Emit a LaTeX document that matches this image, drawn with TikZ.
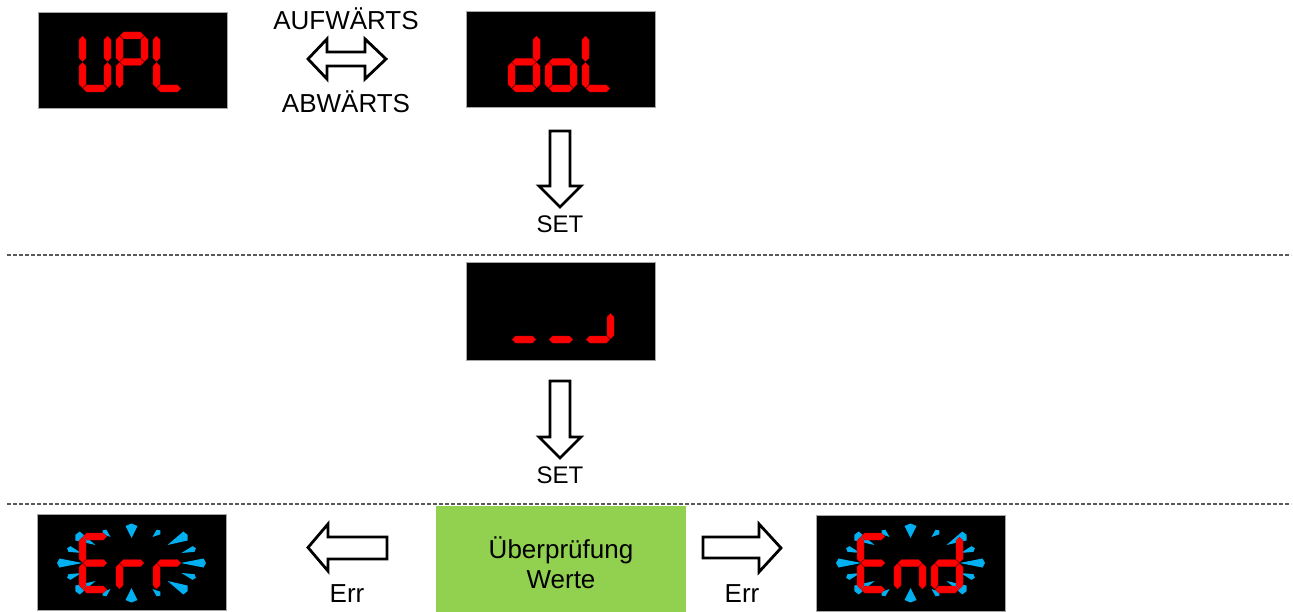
\documentclass[tikz,border=0pt]{standalone}
\usepackage{fontspec}
\setmainfont{Liberation Sans}
\usetikzlibrary{calc}
\definecolor{segred}{HTML}{FF0000}
\definecolor{segedge}{HTML}{D00000}
\definecolor{rayblue}{HTML}{00B0F0}
\definecolor{boxgreen}{HTML}{92D050}
\definecolor{dashgray}{HTML}{595959}
\tikzset{
  display/.style={draw=gray!70, line width=1pt, fill=black, minimum width=189pt, minimum height=96pt, inner sep=0pt},
  seg/.style={fill=segred, draw=segedge, line width=0.3pt, line join=round},
  ray/.style={fill=rayblue},
  blockarrow/.style={draw=black, fill=white, line width=2.8pt, line join=miter},
  sep/.style={draw=dashgray, line width=1.4pt, dash pattern=on 4pt off 2pt},
  lbl/.style={anchor=base, inner sep=0pt, font=\fontsize{26}{30}\selectfont},
  setlbl/.style={anchor=base, inner sep=0pt, font=\fontsize{24}{28}\selectfont},
}
% horizontal / vertical segments: (x1,x2,y) and (x,y1,y2); half thickness 3.5, gap 0.6
\newcommand{\hsg}[3]{\path[seg] (#1+0.6,#3) -- (#1+4.1,#3-3.5) -- (#2-4.1,#3-3.5) -- (#2-0.6,#3) -- (#2-4.1,#3+3.5) -- (#1+4.1,#3+3.5) -- cycle;}
\newcommand{\vsg}[3]{\path[seg] (#1,#2+0.6) -- (#1+3.5,#2+4.1) -- (#1+3.5,#3-4.1) -- (#1,#3-0.6) -- (#1-3.5,#3-4.1) -- (#1-3.5,#2+4.1) -- cycle;}
\newcommand{\sega}[2]{\hsg{#1+3.5}{#1+28.5}{#2+3.5}}
\newcommand{\segg}[2]{\hsg{#1+3.5}{#1+28.5}{#2+30}}
\newcommand{\segd}[2]{\hsg{#1+3.5}{#1+28.5}{#2+56.5}}
\newcommand{\segf}[2]{\vsg{#1+3.5}{#2+3.5}{#2+30}}
\newcommand{\sege}[2]{\vsg{#1+3.5}{#2+30}{#2+56.5}}
\newcommand{\segb}[2]{\vsg{#1+28.5}{#2+3.5}{#2+30}}
\newcommand{\segc}[2]{\vsg{#1+28.5}{#2+30}{#2+56.5}}
% \sevseg{x0}{y0}{list of segments}
\newcommand{\sevseg}[3]{\foreach \sg in {#3} {\csname seg\sg\endcsname{#1}{#2}}}
% ray: center cx,cy ; inner dx,dy ; outer dx,dy ; half width
\newcommand{\oneray}[7]{%
  \coordinate (ri) at (#1+#3,#2-#4);
  \coordinate (ro) at (#1+#5,#2-#6);
  \path[ray] (ri) -- ($(ro)!#7pt!90:(ri)$) -- ($(ro)!-2.5pt!(ri)$) -- ($(ro)!#7pt!-90:(ri)$) -- cycle;}
\newcommand{\rays}[2]{%
  \foreach \ix/\iy/\ox/\oy/\hw in {
     49/0/72/0/4.5, 50/10/62/14/3, 36/18/54/27/5, 21/26/27/31/3, 0/25/0/37/6,
     -21/26/-27/31/3, -36/18/-54/27/5, -50/10/-62/14/3, -49/0/-72/0/4.5,
     50/-10/62/-14/3, 36/-18/54/-27/5, 21/-26/27/-31/3, 0/-25/0/-37/6,
     -21/-26/-27/-31/3, -36/-18/-54/-27/5, -50/-10/-62/-14/3}
  {\oneray{#1}{#2}{\ix}{\iy}{\ox}{\oy}{\hw}}}
\begin{document}
\begin{tikzpicture}[x=1pt,y=-1pt]
\useasboundingbox (0,0) rectangle (1293,612);
\fill[white] (0,0) rectangle (1293,612);

% separators
\coordinate (s1l) at (7,255); \coordinate (s1r) at (1291,255);
\coordinate (s2l) at (7,504); \coordinate (s2r) at (1291,504);
\draw[sep] (s1l) -- (s1r);
\draw[sep] (s2l) -- (s2r);

% displays
\node[display] (upl) at (132.5,61) {};
\node[display] (dol) at (560.5,60) {};
\node[display, minimum height=97pt] (wait) at (560.5,311.5) {};
\node[display] (err) at (131.5,562.5) {};
\node[display] (end) at (910.5,563) {};

% digits
\sevseg{79}{32}{b,c,d,e,f}
\sevseg{116}{32}{a,b,e,f,g}
\sevseg{153}{32}{d,e,f}
\sevseg{508}{32}{b,c,d,e,g}
\sevseg{545}{32}{c,d,e,g}
\sevseg{582}{32}{d,e,f}
\sevseg{508}{283}{d}
\sevseg{545}{283}{d}
\sevseg{582}{283}{c,d}
\rays{131.5}{563}
\sevseg{79}{533}{a,d,e,f,g}
\sevseg{116}{533}{e,g}
\sevseg{153}{533}{e,g}
\rays{910.5}{563}
\sevseg{857}{533}{a,d,e,f,g}
\sevseg{894}{533}{c,e,g}
\sevseg{931}{533}{b,c,d,e,g}

% green check box
\node[fill=boxgreen, minimum width=250pt, minimum height=106pt, inner sep=0pt] (check) at (561,559) {};
\node[lbl] (t1) at (561,558) {Überprüfung};
\node[lbl] (t2) at (561,588) {Werte};

% double arrow up/down
\draw[blockarrow] (308,59) -- (327,39) -- (327,52) -- (365,52) -- (365,39) -- (386,59)
   -- (365,79) -- (365,66) -- (327,66) -- (327,79) -- cycle;
\node[lbl] (up) at (346,30) {AUFWÄRTS};
\node[lbl] (down) at (346,113) {ABWÄRTS};

% down arrows
\draw[blockarrow] (550,131) -- (570,131) -- (570,186) -- (581,186) -- (560,207) -- (539,186) -- (550,186) -- cycle;
\node[setlbl] (set1) at (560,233) {SET};
\draw[blockarrow] (550,381) -- (570,381) -- (570,437) -- (581,437) -- (560,458) -- (539,437) -- (550,437) -- cycle;
\node[setlbl] (set2) at (560,483) {SET};

% left / right arrows
\draw[blockarrow] (308,547.5) -- (328,524) -- (328,537) -- (387,537) -- (387,559) -- (328,559) -- (328,571) -- cycle;
\node[lbl] (errl) at (347,602) {Err};
\draw[blockarrow] (781,548) -- (759,524) -- (759,537) -- (703,537) -- (703,558) -- (759,558) -- (759,572) -- cycle;
\node[lbl] (errr) at (742,602) {Err};
\end{tikzpicture}
\end{document}
